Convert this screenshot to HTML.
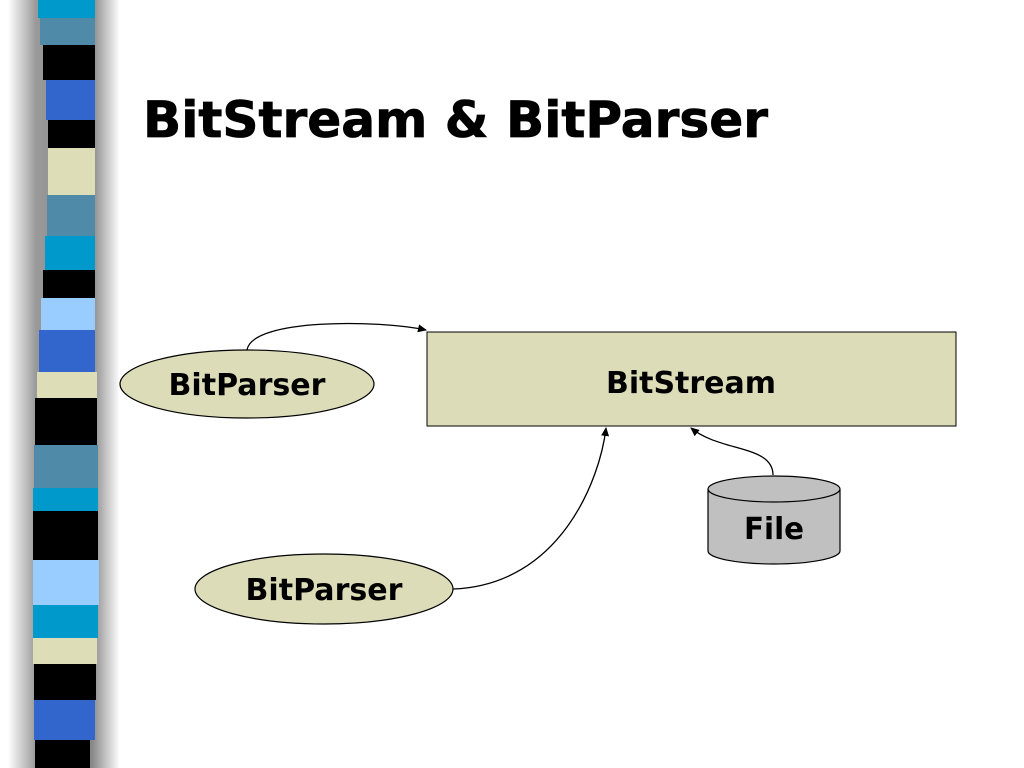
<!DOCTYPE html>
<html><head><style>
html,body{margin:0;padding:0;background:#fff;width:1024px;height:768px;overflow:hidden}
</style></head><body>
<svg width="1024" height="768" xmlns="http://www.w3.org/2000/svg" style="display:block">
<defs>
<linearGradient id="sh" x1="0" x2="1">
<stop offset="0" stop-color="#fff"/><stop offset="0.25" stop-color="#999"/><stop offset="0.75" stop-color="#888"/><stop offset="1" stop-color="#fff"/></linearGradient>
<marker id="ah" markerWidth="10" markerHeight="10" refX="8" refY="4" orient="auto" markerUnits="userSpaceOnUse"><path d="M0,0 L9,4 L0,8 z" fill="#000"/></marker>
</defs>
<rect x="8" y="0" width="112" height="768" fill="url(#sh)"/>
<g>
<rect x="38" y="0" width="57" height="18" fill="#0099cc"/>
<rect x="40" y="18" width="55" height="27" fill="#4f8aa8"/>
<rect x="43" y="45" width="52" height="35" fill="#000"/>
<rect x="46" y="80" width="49" height="40" fill="#3366cc"/>
<rect x="48" y="120" width="47" height="28" fill="#000"/>
<rect x="48" y="148" width="47" height="47" fill="#ddddb8"/>
<rect x="47" y="195" width="48" height="41" fill="#4f8aa8"/>
<rect x="45" y="236" width="50" height="34" fill="#0099cc"/>
<rect x="43" y="270" width="52" height="28" fill="#000"/>
<rect x="41" y="298" width="54" height="32" fill="#99ccff"/>
<rect x="39" y="330" width="56" height="42" fill="#3366cc"/>
<rect x="37" y="372" width="60" height="26" fill="#ddddb8"/>
<rect x="35" y="398" width="62" height="47" fill="#000"/>
<rect x="34" y="445" width="64" height="43" fill="#4f8aa8"/>
<rect x="33" y="488" width="65" height="23" fill="#0099cc"/>
<rect x="33" y="511" width="65" height="49" fill="#000"/>
<rect x="33" y="560" width="66" height="45" fill="#99ccff"/>
<rect x="33" y="605" width="65" height="33" fill="#0099cc"/>
<rect x="33" y="638" width="64" height="26" fill="#ddddb8"/>
<rect x="34" y="664" width="62" height="36" fill="#000"/>
<rect x="34" y="700" width="61" height="40" fill="#3366cc"/>
<rect x="35" y="740" width="55" height="28" fill="#000"/>
</g>
<text x="143" y="137" font-family="DejaVu Sans, Liberation Sans, sans-serif" font-weight="bold" font-size="50" textLength="625" lengthAdjust="spacingAndGlyphs" stroke="#000" stroke-width="0.8">BitStream &amp; BitParser</text>

<rect x="427" y="332" width="529" height="94" fill="#dddcb8" stroke="#000" stroke-width="1"/>
<text x="691" y="393" text-anchor="middle" font-family="DejaVu Sans, Liberation Sans, sans-serif" font-weight="bold" font-size="30" textLength="170" lengthAdjust="spacingAndGlyphs">BitStream</text>

<ellipse cx="247" cy="384" rx="127" ry="34" fill="#dddcb8" stroke="#000" stroke-width="1.2"/>
<text x="247" y="395" text-anchor="middle" font-family="DejaVu Sans, Liberation Sans, sans-serif" font-weight="bold" font-size="30" textLength="157" lengthAdjust="spacingAndGlyphs">BitParser</text>

<ellipse cx="324" cy="589" rx="129" ry="35" fill="#dddcb8" stroke="#000" stroke-width="1.2"/>
<text x="324" y="600" text-anchor="middle" font-family="DejaVu Sans, Liberation Sans, sans-serif" font-weight="bold" font-size="30" textLength="157" lengthAdjust="spacingAndGlyphs">BitParser</text>

<path d="M708,489 L708,551 A66,13 0 0 0 840,551 L840,489" fill="#c0c0c0" stroke="#000" stroke-width="1.2"/>
<ellipse cx="774" cy="489" rx="66" ry="13" fill="#c0c0c0" stroke="#000" stroke-width="1.2"/>
<text x="774" y="539" text-anchor="middle" font-family="DejaVu Sans, Liberation Sans, sans-serif" font-weight="bold" font-size="30" textLength="60" lengthAdjust="spacingAndGlyphs">File</text>

<g fill="none" stroke="#000" stroke-width="1.3">
<path d="M247,350 C252,318 380,320 426,330" marker-end="url(#ah)"/>
<path d="M453,589 C560,585 600,480 606,428" marker-end="url(#ah)"/>
<path d="M773,475 C773,445 720,452 691,428" marker-end="url(#ah)"/>
</g>
</svg>
</body></html>
